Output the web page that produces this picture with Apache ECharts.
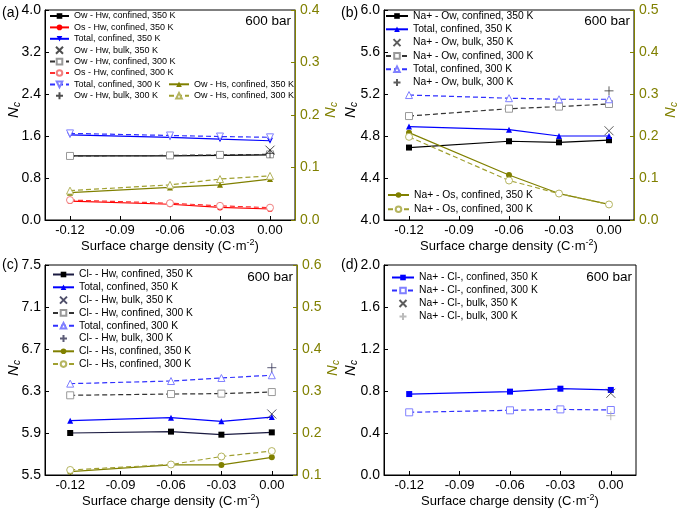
<!DOCTYPE html>
<html><head><meta charset="utf-8">
<script src="https://cdn.jsdelivr.net/npm/echarts@6/dist/echarts.min.js"></script>
<style>html,body{margin:0;padding:0;background:#fff}#c{width:679px;height:511px}</style>
</head><body><div id="c"></div><script>
// ---------- data ----------
const xVals = [-0.12, -0.06, -0.03, 0.00];
const xTicks = [-0.12, -0.09, -0.06, -0.03, 0.00];
const bulkX = 0.00;

// (a)
const a_OwHw_350 = [1.22, 1.22, 1.23, 1.24];
const a_OsHw_350 = [0.36, 0.30, 0.24, 0.21];
const a_Total_350 = [1.62, 1.575, 1.54, 1.51];
const a_OwHw_bulk_350 = 1.33;
const a_OwHw_300 = [1.22, 1.23, 1.24, 1.25];
const a_OsHw_300 = [0.38, 0.32, 0.27, 0.235];
const a_Total_300 = [1.65, 1.61, 1.59, 1.575];
const a_OwHw_bulk_300 = 1.27;
const a_OwHs_350 = [0.052, 0.062, 0.067, 0.078];
const a_OwHs_300 = [0.056, 0.067, 0.078, 0.084];

// (b)
const b_NaOw_350 = [4.69, 4.75, 4.74, 4.76];
const b_Total_350 = [4.89, 4.86, 4.80, 4.80];
const b_NaOw_bulk_350 = 4.85;
const b_NaOw_300 = [4.99, 5.06, 5.08, 5.105];
const b_Total_300 = [5.19, 5.16, 5.15, 5.15];
const b_NaOw_bulk_300 = 5.23;
const b_NaOs_350 = [0.208, 0.107, 0.063, 0.037];
const b_NaOs_300 = [0.198, 0.094, 0.063, 0.037];

// (c)
const c_ClHw_350 = [5.90, 5.913, 5.884, 5.906];
const c_Total_350 = [6.017, 6.046, 6.011, 6.052];
const c_ClHw_bulk_350 = 6.081;
const c_ClHw_300 = [6.259, 6.271, 6.275, 6.29];
const c_Total_300 = [6.37, 6.395, 6.424, 6.45];
const c_ClHw_bulk_300 = 6.522;
const c_ClHs_350 = [0.108, 0.124, 0.124, 0.142];
const c_ClHs_300 = [0.112, 0.125, 0.144, 0.157];

// (d)
const d_NaCl_350 = [0.771, 0.794, 0.822, 0.81];
const d_NaCl_300 = [0.597, 0.616, 0.625, 0.619];
const d_NaCl_bulk_350 = 0.778;
const d_NaCl_bulk_300 = 0.565;

// ---------- styling ----------
const FONT = '"Liberation Sans", Arial, sans-serif';
const OLIVE = '#808000';
const GRIDS = [
  {left:45, top:10, width:250, height:210},
  {left:384, top:10, width:250, height:210},
  {left:45, top:265, width:252, height:210},
  {left:384, top:265, width:252, height:210}
];
const LEFT_Y = [
  {min:0, max:4.0, interval:0.8},
  {min:4.0, max:6.0, interval:0.4},
  {min:5.5, max:7.5, interval:0.4},
  {min:0, max:2.0, interval:0.4}
];
const RIGHT_Y = [
  {min:0, max:0.4, interval:0.1},
  {min:0, max:0.5, interval:0.1},
  {min:0.1, max:0.6, interval:0.1}
];
const CROSS = 'path://M0,0L10,10M10,0L0,10';
const PLUS = 'path://M5,0L5,10M0,5L10,5';

const xAxes = GRIDS.map((g,i)=>({
  gridIndex:i, type:'value', min:-0.135, max:0.015,
  axisLine:{onZero:false, lineStyle:{color:'#000', width:1}},
  axisTick:{inside:true, length:4, customValues:xTicks, lineStyle:{color:'#000'}},
  axisLabel:{customValues:xTicks, formatter:v=>v.toFixed(2), fontSize:13, color:'#000', margin:4, fontFamily:FONT},
  splitLine:{show:false},
  name:'Surface charge density (C·m{sup|-2})', nameLocation:'middle', nameGap:18,
  nameTextStyle:{fontSize:13, color:'#000', fontFamily:FONT, rich:{sup:{fontSize:9, fontFamily:FONT, padding:[0,0,7,0]}}}
}));

const yAxes = [];
LEFT_Y.forEach((r,i)=>{
  yAxes.push({
    gridIndex:i, type:'value', position:'left', min:r.min, max:r.max, interval:r.interval,
    axisLine:{show:true, onZero:false, lineStyle:{color:'#000'}},
    axisTick:{show:true, inside:true, length:4, lineStyle:{color:'#000'}},
    axisLabel:{formatter:v=>v.toFixed(1), fontSize:14, color:'#000', margin:4, fontFamily:FONT},
    splitLine:{show:false}
  });
});
RIGHT_Y.forEach((r,i)=>{
  yAxes.push({
    gridIndex:i, type:'value', position:'right', min:r.min, max:r.max, interval:r.interval,
    axisLine:{show:true, onZero:false, lineStyle:{color:OLIVE}},
    axisTick:{show:true, inside:true, length:4, lineStyle:{color:OLIVE}},
    axisLabel:{formatter:v=>v.toFixed(1), fontSize:14, color:OLIVE, margin:5, fontFamily:FONT},
    splitLine:{show:false}
  });
});
// right y index for panel i = 4 + i

const series = [];
function pts(arr){ return xVals.map((x,k)=>[x, arr[k]]); }
function line(panel, name, arr, o){
  series.push({
    type:'line', name: panel+'|'+name, xAxisIndex:o.grid, yAxisIndex:o.y,
    data:pts(arr), symbol:o.symbol, symbolSize:o.size||6, symbolRotate:o.rot||0,
    lineStyle:{color:o.lc, width:1.2, type:o.dash?[5,3]:'solid'},
    itemStyle:o.open?{color:'#fff', borderColor:o.mc, borderWidth:1}:{color:o.mc, borderColor:o.mc, borderWidth:0},
    animation:false, z:o.z||2
  });
}
function bulk(panel, name, val, o){
  series.push({
    type:'scatter', name: panel+'|'+name, xAxisIndex:o.grid, yAxisIndex:o.y,
    data:[[bulkX, val]], symbol:o.symbol, symbolSize:o.size||9,
    itemStyle:{color:'rgba(0,0,0,0)', borderColor:o.c, borderWidth:1},
    animation:false, z:5
  });
}

// panel a
line('a','Ow - Hw, confined, 350 K', a_OwHw_350, {grid:0,y:0,symbol:'rect',lc:'#000',mc:'#000'});
line('a','Os - Hw, confined, 350 K', a_OsHw_350, {grid:0,y:0,symbol:'circle',lc:'#ff0000',mc:'#ff0000'});
line('a','Total, confined, 350 K', a_Total_350, {grid:0,y:0,symbol:'triangle',rot:180,lc:'#0000ff',mc:'#0000ff'});
bulk('a','Ow - Hw, bulk, 350 K', a_OwHw_bulk_350, {grid:0,y:0,symbol:CROSS,c:'#222'});
line('a','Ow - Hw, confined, 300 K', a_OwHw_300, {grid:0,y:0,symbol:'rect',lc:'#333',mc:'#999',open:true,dash:true,size:7});
line('a','Os - Hw, confined, 300 K', a_OsHw_300, {grid:0,y:0,symbol:'circle',lc:'#ff3030',mc:'#f08080',open:true,dash:true,size:7});
line('a','Total, confined, 300 K', a_Total_300, {grid:0,y:0,symbol:'triangle',rot:180,lc:'#3030ff',mc:'#8080ff',open:true,dash:true,size:7});
bulk('a','Ow - Hw, bulk, 300 K', a_OwHw_bulk_300, {grid:0,y:0,symbol:PLUS,c:'#222'});
line('a','Ow - Hs, confined, 350 K', a_OwHs_350, {grid:0,y:4,symbol:'triangle',lc:OLIVE,mc:OLIVE});
line('a','Ow - Hs, confined, 300 K', a_OwHs_300, {grid:0,y:4,symbol:'triangle',lc:'#a0a030',mc:'#b5b560',open:true,dash:true,size:7});

// panel b
line('b','Na+ - Ow, confined, 350 K', b_NaOw_350, {grid:1,y:1,symbol:'rect',lc:'#000',mc:'#000'});
line('b','Total, confined, 350 K', b_Total_350, {grid:1,y:1,symbol:'triangle',lc:'#0000ff',mc:'#0000ff'});
bulk('b','Na+ - Ow, bulk, 350 K', b_NaOw_bulk_350, {grid:1,y:1,symbol:CROSS,c:'#333'});
line('b','Na+ - Ow, confined, 300 K', b_NaOw_300, {grid:1,y:1,symbol:'rect',lc:'#333',mc:'#999',open:true,dash:true,size:7});
line('b','Total, confined, 300 K', b_Total_300, {grid:1,y:1,symbol:'triangle',lc:'#3030ff',mc:'#8080ff',open:true,dash:true,size:7});
bulk('b','Na+ - Ow, bulk, 300 K', b_NaOw_bulk_300, {grid:1,y:1,symbol:PLUS,c:'#333'});
line('b','Na+ - Os, confined, 350 K', b_NaOs_350, {grid:1,y:5,symbol:'circle',lc:OLIVE,mc:OLIVE});
line('b','Na+ - Os, confined, 300 K', b_NaOs_300, {grid:1,y:5,symbol:'circle',lc:'#a0a030',mc:'#b5b560',open:true,dash:true,size:7});

// panel c
line('c','Cl- - Hw, confined, 350 K', c_ClHw_350, {grid:2,y:2,symbol:'rect',lc:'#1a1a40',mc:'#000'});
line('c','Total, confined, 350 K', c_Total_350, {grid:2,y:2,symbol:'triangle',lc:'#0000ff',mc:'#0000ff'});
bulk('c','Cl- - Hw, bulk, 350 K', c_ClHw_bulk_350, {grid:2,y:2,symbol:CROSS,c:'#222244'});
line('c','Cl- - Hw, confined, 300 K', c_ClHw_300, {grid:2,y:2,symbol:'rect',lc:'#333',mc:'#999',open:true,dash:true,size:7});
line('c','Total, confined, 300 K', c_Total_300, {grid:2,y:2,symbol:'triangle',lc:'#3030ff',mc:'#8080ff',open:true,dash:true,size:7});
bulk('c','Cl- - Hw, bulk, 300 K', c_ClHw_bulk_300, {grid:2,y:2,symbol:PLUS,c:'#333355'});
line('c','Cl- - Hs, confined, 350 K', c_ClHs_350, {grid:2,y:6,symbol:'circle',lc:OLIVE,mc:OLIVE});
line('c','Cl- - Hs, confined, 300 K', c_ClHs_300, {grid:2,y:6,symbol:'circle',lc:'#a0a030',mc:'#b5b560',open:true,dash:true,size:7});

// panel d
line('d','Na+ - Cl-, confined, 350 K', d_NaCl_350, {grid:3,y:3,symbol:'rect',lc:'#0000ff',mc:'#0000ff'});
line('d','Na+ - Cl-, confined, 300 K', d_NaCl_300, {grid:3,y:3,symbol:'rect',lc:'#3030ff',mc:'#8080ff',open:true,dash:true,size:7});
bulk('d','Na+ - Cl-, bulk, 350 K', d_NaCl_bulk_350, {grid:3,y:3,symbol:CROSS,c:'#333'});
bulk('d','Na+ - Cl-, bulk, 300 K', d_NaCl_bulk_300, {grid:3,y:3,symbol:PLUS,c:'#aaa'});

function leg(names, left, top, fs, gap, iw){
  return {
    data:names, orient:'vertical', left:left, top:top, itemWidth:iw, itemHeight:7,
    itemGap:gap, padding:0, selectedMode:false,
    formatter:n=>n.split('|')[1],
    textStyle:{fontSize:fs, color:'#000', fontFamily:FONT, lineHeight:10}
  };
}
const names = p => series.filter(s=>s.name.startsWith(p+'|')).map(s=>s.name);
const aN = names('a'), bN = names('b'), cN = names('c'), dN = names('d');

const legends = [
  leg(aN.slice(0,8), 49, 11, 9, 1.4, 19),
  leg(aN.slice(8), 168, 79.3, 9, 1.4, 20),
  leg(bN.slice(0,6), 385, 11, 10.3, 3.3, 22),
  leg(bN.slice(6), 387, 190, 10.3, 4.3, 21),
  leg(cN, 52, 269.5, 10.3, 2.8, 21),
  leg(dN, 391, 272.5, 10.3, 3, 22)
];

function txt(x,y,t,align,fs){
  return {type:'text', x:x, y:y, z:10, style:{text:t, fill:'#000', fontSize:fs, fontFamily:FONT, align:align, verticalAlign:'middle'}};
}
function ncLabel(x,y,color){
  return {type:'text', x:x, y:y, rotation:Math.PI/2, z:10, style:{
    text:'{i|N}{s|c}', fill:color, align:'center', verticalAlign:'middle',
    rich:{
      i:{fontStyle:'italic', fontSize:15, fontFamily:FONT, fill:color},
      s:{fontStyle:'italic', fontSize:10, fontFamily:FONT, fill:color, padding:[7,0,0,0]}
    }}};
}
const graphics = [
  txt(2,13,'(a)','left',14), txt(341,13,'(b)','left',14),
  txt(2,265,'(c)','left',14), txt(341,265,'(d)','left',14),
  txt(291,21,'600 bar','right',13.5), txt(630,21,'600 bar','right',13.5),
  txt(293,277,'600 bar','right',13.5), txt(632,277,'600 bar','right',13.5),
  ncLabel(14,110,'#000'), ncLabel(351,110,'#000'), ncLabel(14,368,'#000'), ncLabel(351,368,'#000'),
  ncLabel(331,110,OLIVE), ncLabel(671,110,OLIVE), ncLabel(333,368,OLIVE)
];

const chart = echarts.init(document.getElementById('c'), null, {renderer:'canvas'});
chart.setOption({
  animation:false,
  backgroundColor:'#fff',
  textStyle:{fontFamily:FONT},
  grid: GRIDS.map(g=>Object.assign({show:true, borderColor:'#000', borderWidth:1, backgroundColor:'transparent'}, g)),
  xAxis:xAxes, yAxis:yAxes, series:series, legend:legends, graphic:graphics
});
</script></body></html>
